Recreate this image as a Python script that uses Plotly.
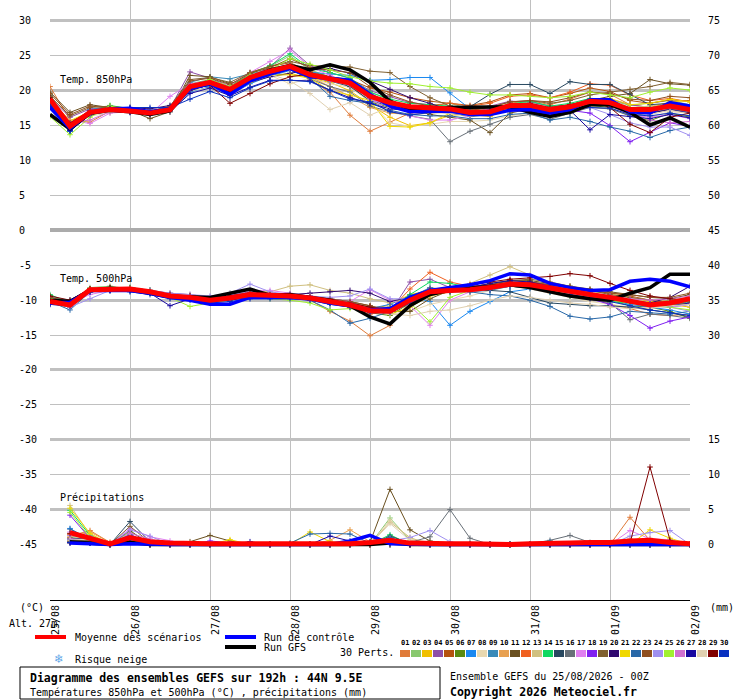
import pandas as pd
import plotly.graph_objects as go

# GEFS ensemble meteogram, 44N 9.5E, run 25/08/2026 00Z (6-hourly steps)

times = pd.date_range("2026-08-25 00:00", periods=33, freq="6h")
rain_times = times[1:]
day_ticks = pd.date_range("2026-08-25", periods=9, freq="D")
day_labels = ["25/08", "26/08", "27/08", "28/08", "29/08", "30/08", "31/08", "01/09", "02/09"]

pert_names = ["%02d" % i for i in range(1, 31)]
pert_colors = ["#E07B39", "#88C86E", "#F0C000", "#8E4FA8", "#B5520F", "#5A8A12", "#1A88F0", "#E8D8B0",
               "#3A8AB8", "#E8A050", "#6A5020", "#F06020", "#D0C080", "#10D860", "#284860", "#687078",
               "#E080F0", "#8020F0", "#806030", "#300870", "#F0D800", "#2868A8", "#905020", "#A090F0",
               "#A0F030", "#D070D0", "#1808A0", "#E0D0B0", "#800000", "#0830C0"]

# temperature 850 hPa (degC)
t850_mean = [18.8, 14.9, 16.9, 17.3, 17.1, 16.8, 17.3, 20.6, 21.2, 20.2, 21.9, 22.8, 23.5, 22.3, 21.7, 21.1, 19.2,
             18.3, 17.7, 17.5, 17.4, 16.9, 17.0, 17.9, 17.9, 17.3, 17.7, 18.5, 18.3, 17.3, 17.3, 17.8, 17.3]
t850_ctrl = [17.6, 14.6, 16.9, 17.4, 17.5, 17.0, 17.4, 20.3, 21.0, 19.5, 21.4, 22.4, 23.2, 22.0, 21.8, 21.5, 19.5,
             17.8, 17.0, 17.0, 17.1, 16.6, 16.6, 17.2, 17.3, 16.8, 17.3, 18.7, 18.7, 17.0, 16.8, 18.3, 17.8]
t850_gfs = [16.6, 14.5, 16.8, 17.2, 17.0, 16.6, 17.1, 20.4, 21.0, 20.0, 21.8, 23.0, 23.6, 23.0, 23.7, 23.0, 21.2,
            18.5, 17.3, 17.0, 17.6, 17.6, 17.7, 17.7, 16.9, 16.3, 16.9, 18.0, 18.0, 16.9, 15.1, 16.1, 14.8]
t850_perts = [
    [20.6, 15.8, 15.5, 17.1, 17.0, 16.6, 17.2, 20.4, 21.5, 20.0, 22.0, 23.0, 23.4, 21.5, 19.8, 16.5, 14.2, 15.5, 16.8, 17.2, 17.6, 17.0, 17.3, 18.2, 18.6, 18.0, 18.8, 19.8, 19.5, 18.0, 17.6, 18.3, 17.9],
    [19.5, 15.0, 17.2, 17.6, 17.3, 17.0, 17.6, 21.0, 21.6, 20.8, 22.5, 23.5, 25.0, 23.0, 22.0, 21.5, 19.8, 18.6, 17.5, 17.8, 18.2, 17.4, 17.2, 18.0, 18.4, 17.8, 18.0, 18.9, 18.6, 17.9, 18.2, 18.6, 18.0],
    [18.6, 15.4, 17.0, 17.2, 17.0, 16.6, 17.0, 20.2, 21.0, 20.1, 21.8, 22.2, 22.5, 21.8, 21.2, 20.0, 18.0, 16.2, 15.0, 15.4, 16.5, 16.6, 16.3, 17.6, 17.8, 17.0, 17.5, 18.2, 18.0, 17.0, 17.6, 18.4, 18.6],
    [19.0, 16.2, 17.4, 17.5, 17.3, 17.1, 17.5, 22.7, 21.8, 20.6, 22.0, 23.4, 26.1, 23.6, 22.6, 21.8, 20.0, 19.2, 18.3, 18.0, 17.6, 17.4, 17.8, 18.5, 18.4, 17.8, 17.9, 18.6, 18.8, 18.0, 17.6, 17.9, 17.3],
    [18.9, 15.6, 17.0, 17.4, 17.2, 16.9, 17.3, 20.4, 21.0, 20.6, 22.6, 23.5, 24.0, 22.8, 22.0, 21.6, 20.4, 19.8, 19.0, 18.5, 18.2, 17.9, 18.4, 19.4, 19.6, 19.0, 19.6, 20.4, 19.9, 18.6, 18.2, 18.7, 18.5],
    [18.2, 14.6, 16.8, 17.3, 17.1, 16.7, 17.4, 20.3, 20.8, 19.6, 21.2, 22.4, 23.2, 22.0, 21.4, 20.8, 18.4, 17.6, 17.0, 17.0, 16.9, 16.3, 16.6, 17.3, 17.0, 16.6, 17.2, 17.9, 17.6, 16.4, 15.7, 16.8, 16.2],
    [18.0, 14.2, 16.7, 17.6, 17.3, 16.8, 17.2, 19.8, 20.6, 19.4, 21.0, 22.1, 22.9, 22.6, 22.4, 22.2, 21.5, 21.6, 21.9, 21.9, 19.7, 17.4, 16.6, 17.2, 17.6, 17.1, 17.5, 18.2, 18.1, 17.1, 16.8, 17.4, 16.9],
    [18.4, 15.2, 16.4, 16.8, 17.6, 17.3, 17.0, 20.0, 20.4, 19.3, 21.3, 22.2, 21.0, 21.8, 21.0, 20.5, 18.4, 15.4, 14.9, 15.2, 15.6, 15.6, 15.8, 16.4, 16.8, 16.2, 16.7, 17.7, 17.4, 16.6, 16.2, 17.0, 16.8],
    [19.3, 15.1, 17.3, 17.8, 17.5, 17.0, 17.6, 21.2, 22.0, 21.7, 22.4, 23.0, 23.8, 22.5, 21.9, 21.0, 19.4, 18.4, 17.8, 17.4, 17.2, 16.8, 17.0, 17.9, 18.0, 17.4, 17.8, 18.7, 18.4, 17.3, 17.2, 17.6, 17.1],
    [18.7, 15.0, 16.9, 17.4, 17.0, 16.5, 17.1, 20.5, 21.2, 20.4, 21.9, 22.9, 23.8, 22.0, 20.6, 19.2, 17.6, 16.8, 16.6, 16.8, 17.0, 16.6, 16.8, 17.8, 17.6, 17.0, 17.4, 18.3, 18.0, 17.2, 17.0, 17.6, 17.2],
    [19.8, 16.9, 18.0, 17.6, 17.2, 16.0, 17.0, 22.2, 22.0, 21.0, 22.0, 23.0, 23.6, 22.6, 22.0, 21.5, 19.5, 18.0, 17.4, 16.6, 16.2, 15.8, 14.0, 16.8, 17.4, 17.4, 18.0, 18.6, 19.2, 19.6, 21.6, 21.0, 20.8],
    [18.5, 15.3, 17.1, 17.5, 17.2, 16.8, 17.4, 20.8, 21.4, 20.5, 22.1, 23.0, 23.6, 22.2, 21.6, 20.8, 19.0, 18.2, 17.8, 17.9, 18.2, 17.8, 18.2, 19.2, 19.4, 19.0, 19.8, 21.0, 20.8, 19.4, 18.6, 18.9, 18.4],
    [18.9, 15.0, 16.8, 17.2, 17.0, 16.9, 17.2, 20.6, 21.1, 20.0, 21.6, 22.6, 23.3, 22.4, 21.8, 21.1, 19.0, 18.1, 17.2, 17.2, 17.5, 17.2, 17.1, 18.0, 17.8, 17.3, 17.6, 18.3, 18.6, 17.6, 17.8, 18.2, 17.7],
    [19.0, 14.8, 17.0, 17.9, 17.4, 16.9, 17.5, 20.9, 21.5, 20.6, 22.4, 23.6, 25.3, 23.2, 22.6, 21.8, 19.8, 18.8, 18.2, 18.0, 17.8, 17.0, 17.3, 18.1, 18.5, 17.8, 18.2, 18.9, 18.2, 17.4, 17.2, 17.7, 17.1],
    [18.3, 14.5, 16.6, 17.0, 16.9, 16.6, 17.1, 20.2, 20.8, 19.9, 21.5, 22.4, 23.1, 22.0, 21.4, 20.6, 18.6, 17.8, 17.6, 17.6, 17.8, 17.7, 19.5, 20.9, 20.9, 19.6, 21.3, 20.9, 20.9, 19.5, 18.0, 18.2, 17.6],
    [18.1, 14.7, 16.9, 17.3, 17.0, 16.7, 17.2, 20.4, 21.0, 20.2, 21.7, 22.5, 23.0, 21.7, 20.6, 19.8, 17.8, 17.0, 16.4, 15.9, 12.7, 14.2, 15.2, 16.2, 16.6, 15.9, 16.8, 17.6, 17.4, 16.4, 16.8, 17.4, 17.0],
    [18.6, 15.8, 15.3, 16.8, 17.0, 16.7, 19.2, 21.0, 21.4, 20.8, 22.6, 24.2, 25.8, 23.4, 22.2, 21.0, 18.8, 17.2, 16.4, 15.8, 15.8, 16.4, 16.9, 17.6, 17.4, 16.8, 17.4, 18.2, 17.8, 16.6, 16.2, 16.6, 16.0],
    [18.5, 15.2, 17.2, 17.6, 17.4, 17.0, 17.5, 20.8, 21.2, 20.2, 21.9, 22.9, 23.6, 22.4, 21.8, 21.2, 19.3, 18.4, 17.8, 17.6, 17.4, 16.9, 16.8, 17.8, 17.6, 17.1, 17.2, 16.8, 15.0, 12.7, 14.0, 15.4, 14.9],
    [19.2, 16.4, 17.6, 17.8, 17.4, 17.1, 17.8, 21.6, 21.9, 21.2, 22.6, 23.5, 24.2, 23.6, 23.5, 23.4, 22.8, 22.6, 20.6, 19.0, 17.8, 17.3, 17.6, 18.4, 18.6, 18.2, 18.6, 19.4, 19.8, 20.2, 20.6, 21.2, 20.9],
    [18.0, 14.4, 16.5, 17.2, 17.6, 17.4, 17.9, 20.0, 20.9, 19.8, 21.2, 22.0, 22.5, 23.0, 23.2, 22.5, 21.4, 20.2, 19.0, 18.2, 17.2, 16.8, 17.4, 18.0, 17.2, 16.6, 17.0, 18.0, 18.4, 17.0, 16.8, 17.3, 16.8],
    [18.8, 15.7, 17.0, 17.3, 17.1, 16.9, 17.3, 20.5, 21.0, 19.6, 21.2, 22.2, 22.3, 21.8, 20.0, 19.4, 18.6, 14.9, 14.8, 15.4, 16.8, 16.6, 16.8, 17.4, 17.6, 17.2, 17.8, 18.6, 18.9, 18.0, 18.2, 18.8, 18.4],
    [18.3, 14.6, 16.7, 17.2, 17.0, 16.8, 17.2, 20.2, 20.9, 20.0, 21.4, 22.3, 23.0, 21.8, 19.2, 18.6, 18.2, 17.2, 16.6, 16.4, 16.4, 16.0, 16.0, 16.6, 16.8, 15.8, 16.2, 15.6, 14.8, 14.2, 13.3, 14.3, 14.8],
    [19.6, 16.6, 17.8, 17.5, 17.3, 16.6, 17.6, 21.4, 21.8, 20.9, 22.5, 23.3, 24.6, 23.3, 22.9, 22.6, 20.6, 19.4, 18.4, 17.8, 17.6, 17.2, 17.6, 18.4, 18.6, 18.4, 19.0, 19.8, 19.6, 18.8, 18.6, 19.2, 19.0],
    [18.4, 15.0, 16.9, 17.3, 17.1, 16.7, 17.3, 20.6, 21.2, 20.3, 22.0, 22.8, 23.3, 22.0, 21.4, 20.8, 18.8, 17.8, 17.2, 17.0, 17.2, 17.0, 17.4, 18.0, 17.9, 17.2, 17.4, 17.6, 16.6, 15.4, 14.8, 14.8, 13.6],
    [16.3, 13.7, 16.2, 17.8, 17.2, 16.8, 17.4, 20.4, 21.6, 20.6, 22.2, 23.0, 24.6, 23.8, 23.0, 22.0, 21.4, 21.1, 21.0, 20.6, 20.4, 19.8, 19.4, 19.4, 19.2, 19.0, 19.2, 19.8, 19.4, 19.0, 19.8, 20.4, 20.1],
    [18.8, 15.5, 15.8, 17.0, 17.1, 16.9, 17.3, 20.4, 21.0, 20.0, 21.7, 22.6, 23.1, 22.2, 21.5, 20.9, 18.9, 17.9, 17.4, 17.3, 17.2, 16.7, 16.8, 17.7, 17.7, 17.0, 17.5, 18.2, 18.0, 16.9, 15.8, 15.4, 15.6],
    [17.8, 14.3, 16.6, 17.1, 16.9, 16.6, 17.0, 19.6, 20.4, 19.3, 20.5, 21.5, 21.5, 21.4, 20.1, 19.0, 18.2, 17.4, 17.2, 17.0, 16.8, 16.4, 16.6, 17.4, 17.4, 16.9, 17.2, 14.4, 16.6, 16.3, 16.0, 16.6, 16.1],
    [18.5, 15.1, 16.7, 17.0, 17.2, 17.0, 17.1, 20.3, 20.9, 19.9, 21.5, 22.4, 21.4, 19.6, 17.3, 18.3, 16.5, 17.7, 17.0, 16.8, 16.8, 16.4, 16.6, 17.4, 17.4, 16.8, 17.3, 18.1, 18.0, 17.0, 16.6, 17.2, 16.7],
    [19.0, 15.4, 17.1, 17.4, 17.2, 16.9, 17.4, 20.4, 20.8, 18.2, 19.6, 21.0, 22.0, 22.4, 21.8, 21.0, 19.0, 18.2, 17.8, 17.6, 17.5, 17.0, 17.1, 18.0, 18.2, 17.6, 18.0, 18.6, 17.6, 15.2, 14.0, 16.2, 16.8],
    [18.1, 14.2, 16.8, 17.5, 17.6, 17.6, 17.6, 18.8, 19.9, 19.0, 20.4, 21.4, 21.5, 21.3, 20.0, 18.8, 18.4, 17.0, 16.5, 16.9, 17.3, 16.9, 17.2, 17.8, 17.6, 17.0, 17.4, 17.6, 17.5, 16.6, 16.4, 16.8, 16.4],
]

# temperature 500 hPa (degC)
t500_mean = [-10.2, -10.7, -8.5, -8.4, -8.4, -8.8, -9.4, -9.6, -10.0, -9.7, -9.2, -9.3, -9.4, -9.7, -10.2, -10.7, -11.5,
             -11.6, -10.0, -8.8, -8.6, -8.5, -8.2, -7.7, -7.8, -8.3, -8.8, -9.2, -9.6, -10.2, -10.7, -10.4, -9.8]
t500_ctrl = [-10.4, -10.3, -8.6, -8.6, -8.6, -9.0, -9.6, -10.0, -10.6, -10.6, -9.6, -9.6, -9.6, -9.8, -10.4, -10.8, -11.4,
             -11.2, -9.6, -8.6, -8.2, -7.8, -7.2, -6.2, -6.4, -7.6, -8.2, -8.6, -8.5, -7.3, -7.0, -7.3, -8.1]
t500_gfs = [-10.0, -10.2, -8.6, -8.3, -8.5, -9.0, -9.5, -9.5, -9.6, -9.0, -8.4, -9.3, -9.2, -9.6, -10.0, -10.8, -12.4,
            -13.4, -10.8, -9.2, -8.6, -8.3, -8.0, -7.8, -8.2, -8.8, -9.4, -9.8, -10.0, -9.0, -8.2, -6.3, -6.3]
t500_perts = [
    [-9.6, -10.5, -8.7, -8.3, -8.5, -9.0, -9.3, -9.6, -10.1, -9.5, -9.0, -9.4, -9.6, -10.0, -11.6, -13.0, -15.1, -13.6, -10.2, -8.2, -8.6, -8.4, -8.0, -7.6, -7.8, -8.6, -9.4, -9.6, -10.6, -11.2, -12.0, -12.2, -12.0],
    [-9.6, -10.4, -8.2, -8.0, -8.4, -8.8, -9.2, -9.8, -10.2, -9.6, -9.0, -9.2, -9.3, -9.4, -10.0, -10.4, -11.0, -11.2, -9.4, -8.8, -8.4, -8.4, -8.2, -7.6, -7.6, -8.0, -8.6, -9.0, -9.6, -10.0, -10.4, -10.0, -9.6],
    [-10.0, -10.8, -8.5, -8.4, -8.3, -8.9, -9.6, -9.8, -10.3, -9.8, -9.4, -9.5, -9.6, -9.9, -10.4, -11.0, -11.4, -10.6, -9.2, -8.6, -8.4, -8.0, -7.8, -7.4, -7.6, -8.0, -8.4, -8.6, -9.0, -9.6, -10.2, -10.6, -11.0],
    [-10.2, -10.0, -8.4, -8.6, -8.4, -8.6, -9.0, -9.2, -9.6, -9.3, -8.8, -9.0, -9.2, -9.4, -9.8, -10.2, -11.2, -11.8, -7.4, -7.0, -8.2, -8.0, -7.8, -7.2, -7.4, -7.8, -8.6, -9.0, -9.4, -10.0, -10.6, -10.8, -10.2],
    [-9.8, -10.6, -8.6, -8.5, -8.5, -8.8, -9.4, -9.6, -9.9, -9.6, -9.2, -9.3, -9.4, -9.6, -10.2, -10.6, -11.4, -11.2, -9.8, -8.8, -8.4, -8.2, -7.8, -7.6, -7.4, -7.8, -8.2, -8.6, -9.0, -9.4, -10.0, -10.2, -9.6],
    [-10.1, -10.9, -8.6, -8.4, -8.5, -8.9, -9.5, -9.8, -10.2, -9.9, -9.4, -9.5, -9.6, -9.8, -10.4, -10.8, -11.8, -12.2, -10.4, -9.0, -8.8, -8.6, -8.4, -8.0, -8.2, -8.8, -9.2, -9.6, -10.0, -10.8, -11.0, -11.6, -12.6],
    [-10.4, -11.0, -8.8, -8.6, -8.6, -9.0, -9.6, -9.8, -10.2, -9.8, -9.4, -9.5, -9.5, -9.8, -10.4, -10.8, -11.2, -10.6, -9.4, -10.2, -13.6, -11.6, -10.2, -8.8, -8.4, -8.8, -9.2, -9.6, -10.0, -10.6, -11.0, -11.4, -12.0],
    [-10.0, -10.6, -8.6, -8.4, -8.4, -8.8, -9.4, -9.6, -9.9, -9.6, -9.2, -9.3, -9.4, -9.6, -10.0, -10.4, -11.0, -12.0, -11.6, -10.6, -10.0, -9.4, -8.6, -8.0, -8.4, -9.0, -9.6, -10.2, -10.6, -11.0, -11.2, -10.8, -10.4],
    [-9.6, -10.0, -8.6, -8.3, -8.2, -8.6, -9.2, -9.4, -9.8, -9.4, -9.0, -9.2, -9.3, -9.6, -10.0, -10.6, -11.4, -11.6, -9.6, -8.2, -8.8, -8.8, -8.6, -8.0, -8.2, -8.6, -9.0, -9.4, -9.8, -10.4, -10.8, -11.0, -10.6],
    [-10.2, -10.8, -8.6, -8.5, -8.5, -8.9, -9.5, -9.7, -10.0, -9.8, -9.3, -9.4, -9.5, -9.8, -10.2, -10.6, -11.0, -11.2, -10.2, -9.0, -8.4, -8.2, -8.2, -7.8, -8.0, -8.6, -9.0, -9.4, -9.8, -10.2, -10.6, -10.8, -10.4],
    [-9.8, -10.4, -8.4, -8.3, -8.4, -8.8, -9.2, -9.4, -9.8, -9.4, -9.0, -9.2, -9.2, -9.4, -9.8, -10.2, -10.8, -11.6, -11.6, -9.8, -8.6, -8.2, -7.8, -7.2, -7.2, -7.6, -8.0, -8.4, -8.8, -9.2, -9.6, -9.8, -9.2],
    [-10.3, -11.0, -8.7, -8.6, -8.6, -9.0, -9.6, -9.8, -10.1, -9.8, -9.4, -9.5, -9.6, -9.9, -10.4, -11.0, -12.0, -11.4, -8.4, -6.0, -7.4, -8.0, -7.8, -7.6, -7.8, -8.4, -8.8, -9.2, -9.4, -9.6, -10.0, -10.4, -10.0],
    [-9.8, -10.2, -8.4, -8.2, -8.2, -8.6, -9.2, -9.2, -9.6, -9.0, -8.6, -8.8, -8.0, -7.8, -8.6, -9.0, -9.8, -10.4, -9.6, -8.8, -8.4, -7.6, -6.4, -5.2, -6.4, -7.6, -8.4, -8.8, -9.0, -9.6, -10.0, -10.2, -9.8],
    [-9.2, -10.4, -8.6, -8.2, -8.2, -8.6, -9.4, -9.4, -9.8, -9.6, -9.2, -9.2, -9.4, -9.6, -10.0, -10.6, -11.4, -11.2, -9.2, -7.4, -7.6, -8.2, -8.4, -8.0, -8.2, -8.8, -9.4, -9.8, -10.2, -10.4, -10.6, -10.6, -10.2],
    [-10.2, -10.6, -8.6, -8.4, -8.5, -8.9, -9.4, -9.6, -10.0, -9.8, -9.4, -9.5, -9.6, -9.8, -10.2, -10.8, -11.4, -11.6, -10.0, -8.8, -8.6, -8.6, -8.6, -8.8, -9.6, -10.4, -10.6, -10.8, -10.8, -11.0, -11.4, -11.8, -12.4],
    [-10.0, -10.6, -8.6, -8.4, -8.4, -8.8, -9.4, -9.6, -9.9, -9.6, -9.2, -9.3, -9.4, -9.7, -10.2, -10.6, -11.2, -11.2, -9.8, -8.8, -8.4, -8.4, -8.2, -7.8, -8.0, -8.6, -9.4, -9.8, -10.4, -12.8, -12.0, -12.2, -12.6],
    [-10.0, -10.4, -9.2, -8.6, -8.4, -8.8, -9.2, -9.4, -9.8, -9.2, -8.6, -8.6, -9.0, -9.4, -9.8, -10.2, -8.5, -10.0, -10.8, -13.6, -10.0, -8.8, -8.4, -8.0, -8.2, -8.6, -9.0, -9.4, -9.8, -10.4, -10.8, -11.0, -10.6],
    [-10.4, -10.6, -8.6, -8.5, -8.6, -9.0, -9.6, -9.8, -10.2, -9.8, -9.2, -9.4, -9.5, -9.8, -10.2, -10.6, -11.2, -11.4, -9.6, -8.4, -8.4, -8.4, -8.2, -7.8, -8.0, -8.6, -9.2, -9.8, -10.6, -12.2, -14.0, -13.0, -12.4],
    [-10.0, -10.6, -8.5, -8.4, -8.4, -8.8, -9.4, -9.6, -10.0, -9.6, -9.2, -9.2, -9.3, -9.6, -10.0, -10.4, -11.0, -11.0, -9.8, -8.6, -8.4, -8.2, -7.6, -7.2, -7.0, -7.4, -8.0, -8.6, -9.2, -9.6, -10.0, -10.4, -10.6],
    [-10.4, -10.8, -8.6, -8.6, -8.6, -9.0, -9.6, -9.8, -10.2, -9.8, -9.4, -9.4, -9.2, -9.0, -8.8, -8.6, -9.0, -10.2, -9.6, -8.8, -8.6, -8.4, -8.0, -7.4, -7.6, -8.2, -8.6, -9.0, -9.6, -10.0, -10.4, -9.6, -8.0],
    [-10.0, -10.4, -8.6, -8.4, -8.4, -8.8, -9.4, -9.6, -10.0, -9.6, -9.2, -9.2, -9.4, -9.6, -10.0, -10.6, -11.4, -12.0, -11.0, -9.4, -8.8, -8.6, -8.2, -7.8, -8.0, -8.4, -8.8, -9.2, -9.6, -10.2, -10.8, -10.8, -10.4],
    [-10.2, -11.4, -8.8, -8.6, -8.6, -9.0, -9.6, -9.8, -10.2, -9.8, -9.4, -9.5, -9.6, -10.0, -11.4, -13.3, -12.6, -11.6, -9.4, -8.4, -8.6, -8.8, -9.2, -9.4, -10.0, -10.9, -12.3, -12.7, -12.4, -11.6, -11.8, -12.0, -11.6],
    [-9.6, -10.2, -8.4, -8.2, -8.2, -8.6, -9.2, -9.4, -9.8, -9.4, -9.0, -9.2, -9.2, -9.4, -9.8, -10.2, -10.8, -11.6, -10.4, -9.0, -8.4, -8.0, -7.8, -7.6, -7.4, -7.8, -8.2, -8.6, -9.0, -9.2, -9.6, -9.6, -9.0],
    [-10.2, -11.0, -9.8, -8.6, -8.4, -8.6, -9.0, -9.2, -9.4, -9.0, -7.7, -8.8, -9.2, -9.4, -9.6, -9.4, -8.4, -9.8, -9.8, -8.6, -8.6, -8.4, -8.2, -7.8, -8.0, -8.6, -9.0, -9.4, -9.8, -10.4, -10.6, -11.0, -11.6],
    [-9.8, -10.4, -8.6, -8.4, -8.6, -9.0, -9.6, -10.9, -10.4, -10.0, -9.6, -9.8, -10.0, -10.4, -11.4, -11.2, -11.6, -11.2, -10.4, -13.1, -9.6, -8.6, -8.2, -7.8, -8.0, -8.6, -9.2, -9.6, -10.0, -10.4, -10.8, -11.0, -11.4],
    [-10.0, -10.6, -8.6, -8.4, -8.4, -8.8, -9.4, -9.6, -10.0, -9.6, -9.2, -9.3, -9.4, -9.6, -10.0, -10.4, -11.2, -11.6, -9.8, -8.6, -8.4, -8.2, -8.0, -7.6, -7.8, -8.4, -8.8, -9.2, -9.4, -9.8, -10.0, -9.8, -9.4],
    [-10.6, -10.8, -8.8, -8.6, -8.6, -9.0, -10.8, -9.8, -10.2, -10.0, -9.6, -9.6, -9.6, -9.8, -10.4, -10.8, -11.6, -11.6, -10.0, -8.6, -8.4, -8.2, -7.6, -7.2, -7.4, -8.0, -8.6, -9.2, -9.6, -10.2, -10.6, -10.8, -10.4],
    [-10.2, -10.8, -8.6, -8.4, -8.4, -8.8, -9.4, -9.6, -10.0, -9.8, -9.4, -9.4, -9.5, -9.8, -10.2, -10.6, -11.4, -12.0, -12.2, -11.6, -11.4, -10.8, -10.0, -9.4, -9.6, -10.0, -10.4, -10.6, -11.0, -11.2, -11.0, -10.8, -10.6],
    [-9.4, -10.0, -8.4, -8.2, -8.4, -8.8, -9.2, -9.4, -9.8, -9.4, -9.0, -9.2, -9.4, -9.6, -10.0, -10.4, -11.0, -11.4, -9.8, -8.6, -8.2, -7.8, -7.4, -7.0, -6.8, -6.6, -6.2, -6.5, -7.6, -8.6, -9.4, -9.8, -10.0],
    [-10.6, -10.8, -8.8, -8.6, -8.8, -9.2, -9.8, -10.0, -10.4, -10.2, -9.8, -9.8, -9.8, -10.0, -10.6, -11.0, -11.8, -11.8, -10.4, -9.0, -8.8, -8.6, -8.4, -8.0, -8.2, -8.8, -9.2, -9.6, -10.2, -10.8, -11.4, -11.8, -12.2],
]

# 6h precipitation (mm), from 25/08 06z
rain_mean = [1.7, 0.9, 0.1, 1.0, 0.4, 0.2, 0.1, 0.1, 0.1, 0.1, 0.1, 0.1, 0.1, 0.1, 0.1, 0.3,
             0.6, 0.2, 0.1, 0.1, 0.1, 0.0, 0.0, 0.1, 0.1, 0.2, 0.3, 0.3, 0.5, 0.6, 0.3, 0.1]
rain_ctrl = [0.2, 0.1, 0, 0.1, 0, 0, 0, 0, 0, 0, 0, 0, 0, 0, 0.5, 1.3,
             0.1, 0, 0, 0, 0, 0, 0, 0, 0, 0, 0, 0, 0.1, 0, 0, 0]
rain_gfs = [0.4, 0.2, 0, 0.3, 0, 0, 0, 0, 0, 0, 0, 0, 0, 0, 0, 0,
            0.2, 0, 0, 0, 0, 0, 0, 0, 0, 0, 0, 0, 0, 0, 0, 0]
rain_perts = [
    [1.2, 2.0, 0.3, 0.8, 0.2, 0, 0, 0, 0, 0, 0, 0, 0, 0, 0, 0, 0, 0, 0, 0, 0, 0, 0, 0, 0, 0, 0, 0, 3.9, 0.6, 0.2, 0],
    [1.0, 1.2, 0, 1.8, 0.3, 0, 0, 0, 0, 0, 0, 0, 0, 0, 0, 0, 3.8, 0.6, 0, 0, 0, 0, 0, 0, 0, 0, 0, 0, 0.3, 0, 0, 0],
    [0.6, 0.5, 0, 0.6, 0, 0, 0, 0, 0, 0, 0, 0, 0, 0, 0, 0, 0.4, 0, 0, 0, 0, 0, 0, 0, 0, 0, 0, 0, 0, 0.8, 0, 0],
    [0.8, 0.4, 0, 1.0, 0, 0, 0, 0, 0, 0, 0, 0, 0, 0, 0, 0, 0.6, 0, 0, 0, 0, 0, 0, 0, 0, 0, 0, 0, 0, 0, 0, 0],
    [1.4, 1.0, 0.2, 1.3, 0.2, 0, 0, 0, 0, 0, 0, 0, 0, 0, 0, 0, 0.3, 0, 0, 0, 0, 0, 0, 0, 0, 0, 0, 0, 0, 0, 0, 0],
    [0.4, 0.3, 0, 0.5, 0, 0, 0, 0, 0, 0, 0, 0, 0, 0, 0, 0, 0.8, 0, 0, 0, 0, 0, 0, 0, 0, 0, 0, 0, 0, 0, 0, 0],
    [2.3, 0.6, 0, 0.9, 0.2, 0, 0, 0, 0, 0, 0, 0, 0, 0, 0, 0, 0, 0, 0, 0, 0, 0, 0, 0, 0, 0, 0, 0, 0, 0, 0, 0],
    [0.5, 0.9, 0, 1.2, 0.4, 0, 0, 0, 0, 0, 0, 0, 0, 0, 0, 0, 3.5, 0.8, 0.3, 0, 0, 0, 0, 0, 0, 0, 0, 0, 0.4, 0.6, 0, 0],
    [0.7, 0.6, 0, 1.0, 0, 0, 0, 0, 0, 0, 0, 0, 0, 0, 0, 0, 1.0, 0, 0, 0, 0, 0, 0, 0, 0, 0, 0, 0, 0, 0, 0, 0],
    [1.0, 1.8, 0.3, 0.8, 0, 0, 0, 0, 0, 0, 0, 0, 0, 0.6, 2.1, 0.4, 0, 0, 0, 0, 0, 0, 0, 0, 0, 0, 0, 0, 0.8, 0, 0, 0],
    [0.3, 0.2, 0, 2.0, 0, 0, 0.4, 1.3, 0.5, 0, 0, 0, 0, 0, 0, 0.3, 7.9, 2.1, 0.5, 0, 0, 0, 0, 0, 0, 0, 0, 0, 0, 0, 0, 0],
    [1.5, 1.1, 0, 1.1, 0.3, 0, 0, 0, 0, 0, 0, 0, 0, 0, 0, 0, 0.5, 0, 0, 0, 0, 0, 0, 0, 0, 0, 0, 0, 0, 0, 0, 0],
    [5.6, 1.4, 0.2, 1.2, 0.4, 0, 0, 0, 0, 0, 0, 0, 0, 0, 0, 0, 3.2, 1.0, 0, 0, 0, 0, 0, 0, 0, 0, 0, 0, 0, 0.9, 0, 0],
    [4.9, 1.3, 0, 0.9, 0.2, 0, 0, 0, 0, 0, 0, 0, 0, 0, 0, 0, 1.4, 0, 0, 0, 0, 0, 0, 0, 0, 0, 0, 0, 0, 0, 0, 0],
    [0.9, 0.8, 0, 3.3, 0.4, 0, 0, 0, 0, 0, 0, 0, 0, 0, 0, 0, 1.2, 0.2, 0, 0, 0, 0, 0, 0, 0, 0, 0, 0, 0, 0, 0, 0],
    [0.4, 0.6, 0, 0.8, 0, 0, 0, 0, 0, 0, 0, 0, 0, 0, 0, 0, 0, 0.3, 1.1, 5.0, 0.9, 0, 0, 0.1, 0.6, 1.3, 0.3, 0, 0, 0, 0, 0],
    [1.8, 1.2, 0, 2.3, 1.1, 0.5, 0, 0, 0, 0, 0, 0, 0, 0, 0, 0, 0.9, 0, 0, 0, 0, 0, 0, 0, 0, 0, 0, 0, 2.0, 0.8, 0.7, 0],
    [4.2, 0.9, 0, 1.5, 0, 0, 0, 0.5, 0.2, 0, 0, 0, 0, 0, 0, 0, 0, 0, 0, 0, 0, 0, 0, 0, 0, 0, 0, 0, 0, 0, 0, 0],
    [0.6, 0.5, 0, 2.6, 0.3, 0, 0, 0, 0, 0, 0, 0, 0, 0, 0, 0, 0.6, 0, 0, 0, 0, 0, 0, 0, 0, 0, 0, 0, 0, 0, 0, 0],
    [0.2, 0.2, 0, 0.4, 0, 0, 0, 0, 0, 0, 0, 0, 0, 0, 0, 0, 0.3, 0, 0, 0, 0, 0, 0, 0, 0, 0, 0, 0, 0, 0, 0, 0],
    [5.2, 1.6, 0, 1.0, 0, 0, 0, 0, 0.7, 0, 0, 0, 1.8, 0.4, 0, 0, 0, 0, 0, 0, 0, 0, 0, 0, 0, 0, 0, 0, 0, 2.1, 0.9, 0],
    [2.2, 0.8, 0, 1.4, 0, 0, 0, 0, 0, 0, 0, 0.2, 1.5, 1.6, 1.5, 0.2, 1.0, 0, 0, 0, 0, 0, 0, 0, 0.4, 0, 0, 0, 0, 0, 0, 0],
    [0.5, 0.4, 0, 0.7, 0, 0, 0, 0, 0, 0, 0, 0, 0, 0, 0, 0, 0.4, 0, 0, 0, 0, 0, 0, 0, 0, 0, 0, 0, 0, 0, 0, 0],
    [1.3, 0.9, 0, 2.1, 1.2, 0, 0, 0, 0, 0, 0, 0, 0, 0, 0, 0, 0.5, 1.0, 2.0, 0.4, 0, 0, 0, 0, 0, 0, 0, 0, 1.2, 1.7, 2.0, 0],
    [4.6, 1.0, 0, 0.6, 0, 0, 0, 0, 0, 0, 0, 0, 0, 0, 0, 0, 0, 0, 0, 0, 0, 0, 0, 0, 0, 0, 0, 0, 0, 0, 0, 0],
    [0.8, 0.7, 0, 1.6, 0.8, 0, 0, 0, 0, 0, 0, 0, 0, 0, 0, 0, 0.4, 0, 0, 0, 0, 0, 0, 0, 0, 0, 0, 0, 0, 0, 0, 0],
    [0.3, 0.3, 0, 0.5, 0, 0, 0, 0, 0, 0.4, 0, 0, 0, 1.2, 0.5, 0, 0, 0, 0, 0, 0, 0, 0, 0, 0, 0, 0, 0, 0, 0, 0, 0],
    [0.6, 0.8, 0, 1.1, 0, 0, 0, 0, 0, 0, 0, 0, 0, 0, 0, 0, 3.0, 0.6, 0, 0, 0, 0, 0, 0, 0, 0, 0, 0, 0, 0, 0, 0],
    [1.6, 0.9, 0, 0.8, 0, 0, 0, 0, 0, 0, 0, 0, 0, 0, 0, 0, 0.3, 0, 0, 0, 0, 0, 0, 0, 0, 0, 0, 0, 0.2, 11.1, 0.6, 0],
    [0.3, 0.2, 0, 0.4, 0, 0, 0, 0, 0, 0, 0, 0, 0, 0, 0, 0.4, 0.4, 0, 0, 0, 0, 0, 0, 0, 0, 0, 0, 0, 0, 0, 0, 0],
]

temp_ticks = [30, 25, 20, 15, 10, 5, 0, -5, -10, -15, -20, -25, -30, -35, -40, -45]
right_ticks = [75, 70, 65, 60, 55, 50, 45, 40, 35, 30, 15, 10, 5, 0]
thin_grid = [25, 15, 5, -5, -15, -25, -35]
thick_grid = [30, 20, 10, -10, -20, -30, -40]

MONO = "DejaVu Sans Mono"
y_range = [-52.95, 33.0]
y2_range = [y_range[0] + 45, y_range[1] + 45]

fig = go.Figure()

# ensemble members
for name, col, t8, t5, rr in zip(pert_names, pert_colors, t850_perts, t500_perts, rain_perts):
    mk = dict(symbol="cross-thin", size=4, line=dict(width=1, color=col), color=col)
    fig.add_trace(go.Scatter(x=times, y=t8, mode="lines+markers", line=dict(color=col, width=1), marker=mk, name=name))
    fig.add_trace(go.Scatter(x=times, y=t5, mode="lines+markers", line=dict(color=col, width=1), marker=mk, name=name))
    fig.add_trace(go.Scatter(x=rain_times, y=rr, yaxis="y2", mode="lines+markers", line=dict(color=col, width=1), marker=mk, name=name))

# GFS, control, mean on top
for series, col, w in [((t850_gfs, t500_gfs, rain_gfs), "#000000", 3.5),
                       ((t850_ctrl, t500_ctrl, rain_ctrl), "#0000FF", 3.5),
                       ((t850_mean, t500_mean, rain_mean), "#FF0000", 5)]:
    fig.add_trace(go.Scatter(x=times, y=series[0], mode="lines", line=dict(color=col, width=w)))
    fig.add_trace(go.Scatter(x=times, y=series[1], mode="lines", line=dict(color=col, width=w)))
    fig.add_trace(go.Scatter(x=rain_times, y=series[2], yaxis="y2", mode="lines", line=dict(color=col, width=w)))

# empty traces so the grid-only axes get drawn
for ax in ["y3", "y4", "y5"]:
    fig.add_trace(go.Scatter(x=[None], y=[None], yaxis=ax, mode="lines"))

tickfont = dict(family=MONO, size=10, color="black")
left_text = [("%-3d" % v).replace(" ", "\u00a0") for v in temp_ticks]

fig.update_layout(
    width=740, height=700, autosize=False,
    margin=dict(l=50, r=50, t=0, b=100),
    paper_bgcolor="white", plot_bgcolor="white",
    showlegend=False, hovermode=False,
    font=dict(family=MONO, size=10, color="black"),
    xaxis=dict(type="date", range=[times[0], times[-1]], tickvals=day_ticks, ticktext=day_labels,
               tickangle=-90, tickfont=tickfont, showgrid=True, gridcolor="#c0c0c0", gridwidth=1,
               showline=True, linecolor="black", linewidth=1, ticks="", zeroline=False,
               ticklabelshift=6),
    yaxis=dict(range=y_range, tickvals=temp_ticks, ticktext=left_text, tickfont=tickfont,
               showgrid=False, zeroline=False, ticks="", ticklabelstandoff=12),
    yaxis2=dict(range=y2_range, overlaying="y", side="right", tickvals=right_ticks,
                ticktext=[str(v) for v in right_ticks], tickfont=tickfont,
                showgrid=False, zeroline=False, ticks="", ticklabelstandoff=17),
    yaxis3=dict(range=y_range, overlaying="y", tickvals=thin_grid, showticklabels=False,
                showgrid=True, gridcolor="#c0c0c0", gridwidth=1, zeroline=False, ticks=""),
    yaxis4=dict(range=y_range, overlaying="y", tickvals=thick_grid, showticklabels=False,
                showgrid=True, gridcolor="#c0c0c0", gridwidth=2.5, zeroline=False, ticks=""),
    yaxis5=dict(range=y_range, overlaying="y", tickvals=[0], showticklabels=False,
                showgrid=True, gridcolor="#ababab", gridwidth=3.5, zeroline=False, ticks=""),
)


def px(x):
    return (x - 50) / 640.0


def py(y):
    return (600 - y) / 600.0


def text(s, x, y, size=10, bold=False, color="#000000"):
    if bold:
        s = "<b>" + s + "</b>"
    fig.add_annotation(x=px(x), y=py(y), xref="paper", yref="paper", text=s, showarrow=False,
                       xanchor="left", yanchor="middle", borderpad=0,
                       font=dict(family=MONO, size=size, color=color))


# panel labels
text("Temp. 850hPa", 59, 79)
text("Temp. 500hPa", 59, 278)
text("Précipitations", 59, 497)

# units
text("(°C)", 19, 607)
text("Alt. 27m", 8, 623)

# legend
fig.add_shape(type="rect", xref="paper", yref="paper", x0=px(35), x1=px(66), y0=py(639), y1=py(635),
              fillcolor="#FF0000", line=dict(width=0))
fig.add_shape(type="rect", xref="paper", yref="paper", x0=px(225), x1=px(256), y0=py(639), y1=py(635),
              fillcolor="#0000FF", line=dict(width=0))
fig.add_shape(type="rect", xref="paper", yref="paper", x0=px(225), x1=px(256), y0=py(649), y1=py(645),
              fillcolor="#000000", line=dict(width=0))
text("Moyenne des scénarios", 74, 637)
text("Run de contrôle", 263, 637)
text("Run GFS", 263, 647)
text("\u2744", 53, 658, size=13, color="#5fa8e8")
text("Risque neige", 74, 659)
text("30 Perts.", 339, 652)

for i, (name, col) in enumerate(zip(pert_names, pert_colors)):
    x0 = 400 + 11 * i
    fig.add_shape(type="rect", xref="paper", yref="paper", x0=px(x0), x1=px(x0 + 10), y0=py(657), y1=py(650),
                  fillcolor=col, line=dict(width=0))
    fig.add_annotation(x=px(x0 + 5), y=py(643), xref="paper", yref="paper", text="<b>" + name + "</b>",
                       showarrow=False, xanchor="center", yanchor="middle", borderpad=0,
                       font=dict(family=MONO, size=7, color="black"))

# title box
fig.add_shape(type="rect", xref="paper", yref="paper", x0=px(20), x1=px(440), y0=py(699), y1=py(667),
              line=dict(color="black", width=1), fillcolor="rgba(0,0,0,0)")
text("Diagramme des ensembles GEFS sur 192h : 44N 9.5E", 29, 678, size=11.5, bold=True)
text("Températures 850hPa et 500hPa (°C) , précipitations (mm)", 29, 692)
text("Ensemble GEFS du 25/08/2026 - 00Z", 449, 676)
text("Copyright 2026 Meteociel.fr", 449, 692, size=11.5, bold=True)

# precipitation unit, drawn last
fig.add_annotation(x=1.03, y=-0.012, xref="paper", yref="paper", text="(mm)", showarrow=False,
                   xanchor="left", yanchor="middle", borderpad=0, bgcolor="white",
                   font=dict(family=MONO, size=10, color="rgb(0,0,0)"))

fig.write_html("out.html", config={"displayModeBar": False},
               post_script="document.body.style.margin='0';")
